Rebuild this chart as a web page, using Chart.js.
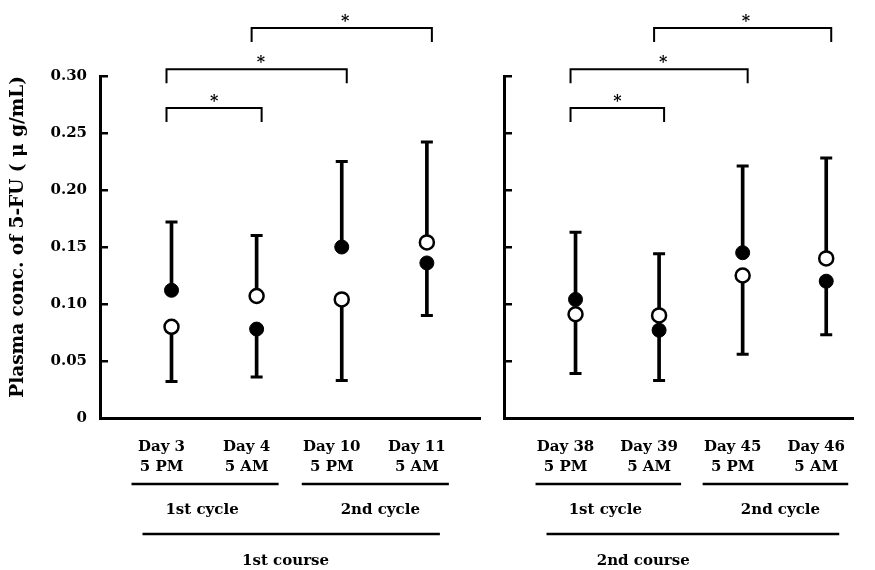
<!DOCTYPE html>
<html>
<head>
<meta charset="utf-8">
<script src="https://cdn.jsdelivr.net/npm/chart.js@4.4.1/dist/chart.umd.min.js"></script>
<style>
  html, body { margin: 0; padding: 0; background: #fff; }
  #wrap { position: relative; width: 875px; height: 570px; }
  canvas { position: absolute; top: 0; }
  #left { left: 0; }
  #right { left: 490px; }
</style>
</head>
<body>
<div id="wrap">
  <canvas id="left" width="490" height="570"></canvas>
  <canvas id="right" width="385" height="570"></canvas>
</div>
<script>
// --- data (µg/mL) ---
const course1Labels = [['Day 3', '5 PM'], ['Day 4', '5 AM'], ['Day 10', '5 PM'], ['Day 11', '5 AM']];
const course1Filled = [0.112, 0.078, 0.150, 0.136];
const course1Open   = [0.080, 0.107, 0.104, 0.154];
const course1Upper  = [0.172, 0.160, 0.225, 0.242];
const course1Lower  = [0.032, 0.036, 0.033, 0.090];

const course2Labels = [['Day 38', '5 PM'], ['Day 39', '5 AM'], ['Day 45', '5 PM'], ['Day 46', '5 AM']];
const course2Filled = [0.104, 0.077, 0.145, 0.120];
const course2Open   = [0.091, 0.090, 0.125, 0.140];
const course2Upper  = [0.163, 0.144, 0.221, 0.228];
const course2Lower  = [0.039, 0.033, 0.056, 0.073];

const yTicks = [0, 0.05, 0.10, 0.15, 0.20, 0.25, 0.30];
const yTickLabels = ['0', '0.05', '0.10', '0.15', '0.20', '0.25', '0.30'];

const cycleLabels = ['1st cycle', '2nd cycle'];
const cycleSpans = [[0, 1], [2, 3]];
const courseLabels = ['1st course', '2nd course'];

// significance brackets (category from/to, level on y axis, where the star sits)
const bracketFrom  = [0, 0, 1];
const bracketTo    = [1, 2, 3];
const bracketLevel = [0.272, 0.306, 0.342];
const bracketStar  = [0.5, 1.05, 2.04];

const FONT = '"DejaVu Serif", "Liberation Serif", serif';

function annotPlugin(courseName, courseAt) {
    return {
        id: 'annot',
        afterDraw(chart) {
            const { ctx, chartArea } = chart;
            const x = chart.scales.x, y = chart.scales.y;
            ctx.save();
            ctx.strokeStyle = '#000';
            ctx.fillStyle = '#000';

            // brackets + stars
            ctx.lineWidth = 2;
            ctx.font = 'bold 16px ' + FONT;
            ctx.textAlign = 'center';
            ctx.textBaseline = 'alphabetic';
            bracketFrom.forEach((f, k) => {
                const x1 = x.getPixelForValue(f) - 5;
                const x2 = x.getPixelForValue(bracketTo[k]) + 5;
                const yl = y.getPixelForValue(bracketLevel[k]);
                ctx.beginPath();
                ctx.moveTo(x1, yl + 14);
                ctx.lineTo(x1, yl);
                ctx.lineTo(x2, yl);
                ctx.lineTo(x2, yl + 14);
                ctx.stroke();
                ctx.fillText('*', x.getPixelForValue(bracketStar[k]), yl - 2);
            });

            // cycle / course grouping under the axis
            const b = chartArea.bottom;
            ctx.lineWidth = 2.5;
            ctx.font = 'bold 15px ' + FONT;
            ctx.textBaseline = 'middle';
            cycleSpans.forEach(([a, c], k) => {
                const x1 = x.getPixelForValue(a) - 40;
                const x2 = x.getPixelForValue(c) + 22;
                ctx.beginPath();
                ctx.moveTo(x1, b + 66);
                ctx.lineTo(x2, b + 66);
                ctx.stroke();
                ctx.fillText(cycleLabels[k], (x1 + x2) / 2 + (k ? 5 : -3), b + 92);
            });
            const c1 = x.getPixelForValue(0) - 29;
            const c2 = x.getPixelForValue(3) + 13;
            ctx.beginPath();
            ctx.moveTo(c1, b + 116);
            ctx.lineTo(c2, b + 116);
            ctx.stroke();
            ctx.fillText(courseName, x.getPixelForValue(courseAt), b + 143);
            ctx.restore();
        }
    };
}

function makePanel(canvasId, p) {
    const pts = arr => arr.map((v, i) => ({ x: i, y: v }));
    const ctx = document.getElementById(canvasId).getContext('2d');
    return new Chart(ctx, {
        type: 'scatter',
        data: {
            datasets: [
                {
                    label: 'open', data: pts(p.open), order: 0,
                    pointRadius: 7, pointBorderWidth: 2.5,
                    pointBackgroundColor: '#fff', pointBorderColor: '#000',
                },
                {
                    label: 'filled', data: pts(p.filled), order: 1,
                    pointRadius: 7, pointBorderWidth: 1,
                    pointBackgroundColor: '#000', pointBorderColor: '#000',
                },
                {
                    label: 'caps', data: pts(p.upper).concat(pts(p.lower)), order: 2,
                    pointStyle: 'line', pointRadius: 6, pointBorderWidth: 3,
                    pointBorderColor: '#000',
                },
                {
                    type: 'bar', label: 'upper whisker', order: 3, grouped: false,
                    data: p.upper.map((v, i) => ({ x: i, y: [Math.max(p.filled[i], p.open[i]), v] })),
                    barThickness: 3, backgroundColor: '#000', borderWidth: 0,
                },
                {
                    type: 'bar', label: 'lower whisker', order: 3, grouped: false,
                    data: p.lower.map((v, i) => ({ x: i, y: [v, Math.min(p.filled[i], p.open[i])] })),
                    barThickness: 3, backgroundColor: '#000', borderWidth: 0,
                },
            ],
        },
        options: {
            responsive: false,
            animation: false,
            events: [],
            layout: { padding: { top: 76, right: p.padRight, left: 0, bottom: 0 } },
            plugins: { legend: { display: false }, tooltip: { enabled: false } },
            scales: {
                x: {
                    type: 'linear', min: p.xMin, max: p.xMax, offset: false,
                    afterBuildTicks: s => { s.ticks = p.labels.map((_, i) => ({ value: i })); },
                    afterFit: s => { s.height = 152; },
                    grid: { display: false, drawTicks: false, offset: false },
                    border: { display: true, width: 3, color: '#000' },
                    ticks: {
                        callback: (v, i) => p.labels[i],
                        color: '#000', padding: 19, labelOffset: -10,
                        maxRotation: 0, autoSkip: false,
                        font: { family: FONT, size: 15, weight: 'bold', lineHeight: 1.33 },
                    },
                },
                y: {
                    type: 'linear', min: 0, max: 0.30,
                    afterBuildTicks: s => { s.ticks = yTicks.map(v => ({ value: v })); },
                    afterFit: s => { s.width = p.yWidth; },
                    grid: {
                        drawOnChartArea: false, drawTicks: true, tickLength: -8,
                        lineWidth: 2.5, color: '#000',
                    },
                    border: { display: true, width: 3, color: '#000' },
                    ticks: {
                        callback: (v, i) => p.showTickLabels ? yTickLabels[i] : '',
                        color: '#000', padding: 21,
                        font: { family: FONT, size: 15, weight: 'bold' },
                    },
                    title: {
                        display: p.showTickLabels,
                        text: 'Plasma conc. of 5-FU ( \u03bc g/mL)',
                        align: 'end', color: '#000',
                        padding: { top: 7 },
                        font: { family: FONT, size: 18.5, weight: 'bold' },
                    },
                },
            },
        },
        plugins: [annotPlugin(p.courseName, p.courseAt)],
    });
}

makePanel('left', {
    labels: course1Labels, filled: course1Filled, open: course1Open,
    upper: course1Upper, lower: course1Lower,
    xMin: -0.84, xMax: 3.63, padRight: 7, yWidth: 100, showTickLabels: true,
    courseName: courseLabels[0], courseAt: 1.34,
});
makePanel('right', {
    labels: course2Labels, filled: course2Filled, open: course2Open,
    upper: course2Upper, lower: course2Lower,
    xMin: -0.856, xMax: 3.323, padRight: 13, yWidth: 14, showTickLabels: false,
    courseName: courseLabels[1], courseAt: 0.81,
});
</script>
</body>
</html>
